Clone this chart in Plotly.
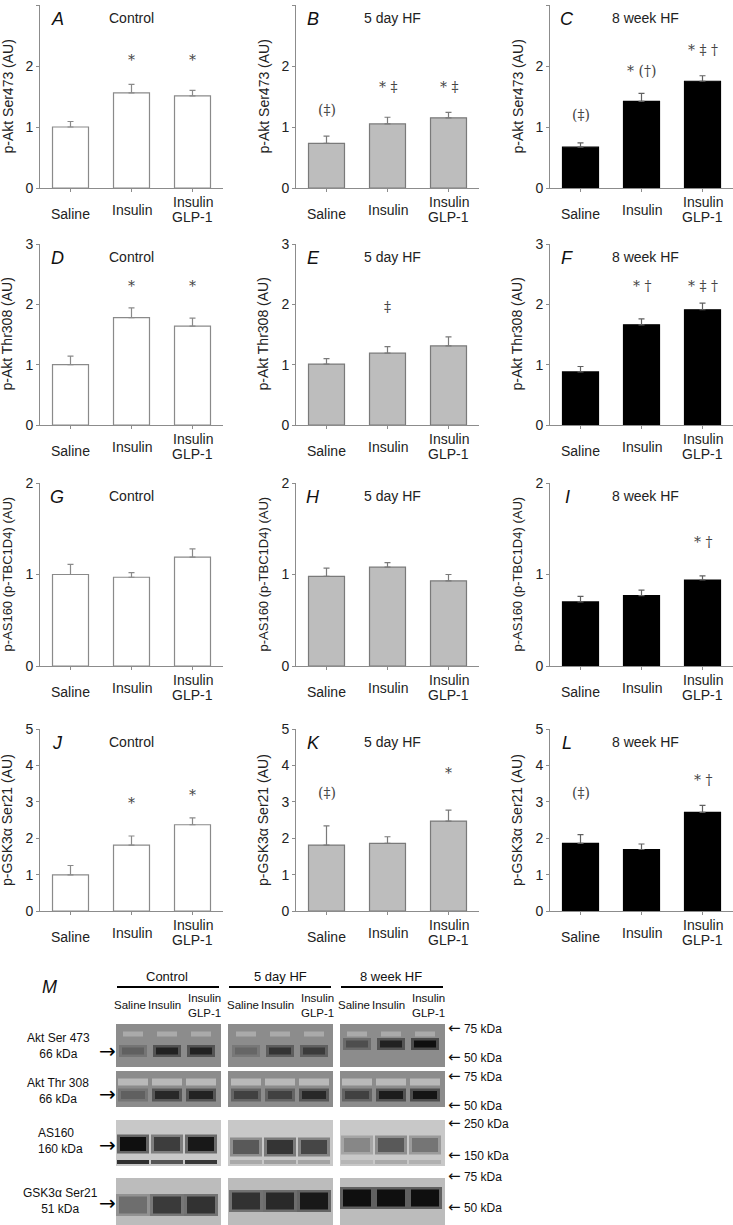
import plotly.graph_objects as go

W, H = 733, 1225

# ---------------- data ----------------
categories = ["Saline", "Insulin", "Insulin\nGLP-1"]
groups = ["Control", "5 day HF", "8 week HF"]
letters = [["A", "B", "C"], ["D", "E", "F"], ["G", "H", "I"], ["J", "K", "L"]]
row_titles = ["p-Akt Ser473 (AU)", "p-Akt Thr308 (AU)",
              "p-AS160 (p-TBC1D4) (AU)", "p-GSK3\u03b1 Ser21 (AU)"]
row_ymax = [3, 3, 2, 5]

# values per group: Control, 5 day HF, 8 week HF ; bars: Saline, Insulin, Insulin+GLP-1
akt473_mean = [[1.00, 1.56, 1.51], [0.73, 1.05, 1.15], [0.67, 1.42, 1.75]]
akt473_err = [[0.09, 0.14, 0.09], [0.12, 0.11, 0.09], [0.07, 0.13, 0.09]]
akt473_sig = [["", "*", "*"], ["(\u2021)", "* \u2021", "* \u2021"], ["(\u2021)", "* (\u2020)", "* \u2021 \u2020"]]
akt473_sig_y = [[None, 2.10, 2.10], [1.28, 1.66, 1.66], [1.19, 1.92, 2.27]]

akt308_mean = [[1.00, 1.78, 1.64], [1.01, 1.19, 1.31], [0.88, 1.66, 1.91]]
akt308_err = [[0.14, 0.16, 0.13], [0.09, 0.11, 0.15], [0.09, 0.10, 0.11]]
akt308_sig = [["", "*", "*"], ["", "\u2021", ""], ["", "* \u2020", "* \u2021 \u2020"]]
akt308_sig_y = [[None, 2.31, 2.31], [None, 1.96, None], [None, 2.30, 2.30]]

as160_mean = [[1.00, 0.97, 1.19], [0.98, 1.08, 0.93], [0.70, 0.77, 0.94]]
as160_err = [[0.11, 0.05, 0.09], [0.09, 0.05, 0.07], [0.06, 0.06, 0.045]]
as160_sig = [["", "", ""], ["", "", ""], ["", "", "* \u2020"]]
as160_sig_y = [[None, None, None], [None, None, None], [None, None, 1.35]]

gsk3_mean = [[0.99, 1.81, 2.37], [1.81, 1.86, 2.47], [1.86, 1.69, 2.71]]
gsk3_err = [[0.26, 0.25, 0.19], [0.53, 0.18, 0.30], [0.24, 0.15, 0.19]]
gsk3_sig = [["", "*", "*"], ["(\u2021)", "", "*"], ["(\u2021)", "", "* \u2020"]]
gsk3_sig_y = [[None, 2.96, 3.20], [3.23, None, 3.78], [3.25, None, 3.60]]

row_means = [akt473_mean, akt308_mean, as160_mean, gsk3_mean]
row_errs = [akt473_err, akt308_err, as160_err, gsk3_err]
row_sigs = [akt473_sig, akt308_sig, as160_sig, gsk3_sig]
row_sig_y = [akt473_sig_y, akt308_sig_y, as160_sig_y, gsk3_sig_y]

# Western blot (panel M): relative band darkness per lane (0-1)
blot_rows = ["Akt Ser 473<br>66 kDa", "Akt Thr 308<br>66 kDa", "AS160<br>160 kDa", "GSK3\u03b1 Ser21<br>51 kDa"]
blot_ser473 = [[0.35, 0.85, 0.85], [0.30, 0.70, 0.65], [0.50, 0.85, 1.00]]
blot_thr308 = [[0.35, 0.80, 0.85], [0.60, 0.60, 0.80], [0.60, 0.90, 0.95]]
blot_as160 = [[1.00, 0.75, 0.95], [0.60, 0.80, 0.70], [0.35, 0.60, 0.45]]
blot_gsk3 = [[0.45, 0.75, 0.80], [0.80, 0.85, 0.95], [1.00, 1.00, 1.00]]
blot_intensity = [blot_ser473, blot_thr308, blot_as160, blot_gsk3]
marker_labels = ["75 kDa", "50 kDa", "75 kDa", "50 kDa", "250 kDa", "150 kDa", "75 kDa", "50 kDa"]

# ---------------- styling / layout ----------------
FONT = "Liberation Sans, Arial, sans-serif"
SERIF = "DejaVu Serif, Liberation Serif, serif"
AXC = "#8c8c8c"
bar_fill = ["white", "#bdbdbd", "black"]
bar_line = ["#8a8a8a", "#7a7a7a", "black"]
err_col = ["#8a8a8a", "#7a7a7a", "#606060"]

col_px = [(40, 223), (296, 479), (550, 733)]
row_px = [(5, 188), (244, 425), (483, 666), (729, 911)]
title_font = [14, 14, 13, 14]
group_label_x = [0.5, 0.53, 0.52]


def px(x):
    return x / W


def py(y):
    return 1 - y / H


fig = go.Figure()
layout = dict(width=W, height=H, margin=dict(l=0, r=0, t=0, b=0),
              paper_bgcolor="white", plot_bgcolor="rgba(0,0,0,0)",
              showlegend=False, template="none", font=dict(family=FONT, size=14, color="#222"))
annotations = []
shapes = []

for r in range(4):
    for g in range(3):
        k = r * 3 + g + 1
        xn = "x" if k == 1 else f"x{k}"
        yn = "y" if k == 1 else f"y{k}"
        xk = "xaxis" if k == 1 else f"xaxis{k}"
        yk = "yaxis" if k == 1 else f"yaxis{k}"
        means = row_means[r][g]
        errs = row_errs[r][g]
        fig.add_trace(go.Bar(
            x=[0, 1, 2], y=means, width=0.59, xaxis=xn, yaxis=yn,
            marker=dict(color=bar_fill[g], line=dict(color=bar_line[g], width=1.2)),
            error_y=dict(type="data", array=errs, arrayminus=[0, 0, 0], symmetric=False,
                         color=err_col[g], thickness=1.2, width=3),
            hoverinfo="skip"))
        x0, x1 = col_px[g]
        y0, y1 = row_px[r]
        layout[xk] = dict(domain=[px(x0), px(x1)], range=[-0.5, 2.5], anchor=yn,
                          showline=True, linecolor=AXC, linewidth=1, ticks="outside",
                          ticklen=3, tickcolor=AXC, tickvals=[0, 1, 2], showticklabels=False,
                          showgrid=False, zeroline=False, fixedrange=True)
        layout[yk] = dict(domain=[py(y1), py(y0)], range=[0, row_ymax[r]], anchor=xn,
                          showline=True, linecolor=AXC, linewidth=1, ticks="outside",
                          ticklen=3, tickcolor=AXC, tickvals=list(range(row_ymax[r] + 1)),
                          tickfont=dict(size=14, color="#222", family=FONT),
                          showgrid=False, zeroline=False, automargin=False, fixedrange=True)
        xd = "x domain" if k == 1 else f"x{k} domain"
        yd = "y domain" if k == 1 else f"y{k} domain"
        hpx = y1 - y0
        wpx = x1 - x0
        annotations.append(dict(text=row_titles[r], xref=xd, yref=yd, x=-33 / wpx, y=0.5,
                                xanchor="center", yanchor="middle", textangle=-90, showarrow=False,
                                font=dict(size=title_font[r], family=FONT, color="#222")))
        annotations.append(dict(text=f"<i>{letters[r][g]}</i>", xref=xd, yref=yd, x=17 / wpx,
                                y=1 - 14 / hpx, xanchor="center", yanchor="middle", showarrow=False,
                                font=dict(size=18, family=FONT, color="#111")))
        annotations.append(dict(text=groups[g], xref=xd, yref=yd, x=group_label_x[g],
                                y=1 - 13 / hpx, xanchor="center", yanchor="middle", showarrow=False,
                                font=dict(size=14, family=FONT, color="#222")))
        for i, cat in enumerate(categories):
            lines = cat.split("\n")
            if len(lines) == 1:
                shift = [-26, -22, -22][i]
                annotations.append(dict(text=lines[0], xref=xn, yref=yn, x=i, y=0, yshift=shift,
                                        xanchor="center", yanchor="middle", showarrow=False,
                                        font=dict(size=14, family=FONT, color="#222")))
            else:
                for j, ln in enumerate(lines):
                    annotations.append(dict(text=ln, xref=xn, yref=yn, x=i, y=0, yshift=-14 - 15 * j,
                                            xanchor="center", yanchor="middle", showarrow=False,
                                            font=dict(size=14, family=FONT, color="#222")))
        for i in range(3):
            s = row_sigs[r][g][i]
            if s:
                annotations.append(dict(text=s, xref=xn, yref=yn, x=i, y=row_sig_y[r][g][i],
                                        xanchor="center", yanchor="middle", showarrow=False,
                                        font=dict(size=14, family=SERIF, color="#444")))

# ---------------- Panel M: western blots ----------------
layout["xaxis13"] = dict(domain=[0, 1], range=[0, W], visible=False, fixedrange=True, anchor="y13")
layout["yaxis13"] = dict(domain=[0, py(940)], range=[H, 940], visible=False, fixedrange=True, anchor="x13")

strip_x = [(116, 221), (228, 333), (340, 445)]
strip_y = [(1024, 1067), (1071, 1107), (1120, 1166), (1178, 1225)]
strip_bg = [140, 140, 200, 188]
group_center = [167, 280, 391]
lane_offset = [-34, 0, 34]
band_y = [[1051, 1051, 1044], [1095, 1095, 1095], [1144, 1147, 1145], [1205, 1201, 1198]]
band_thick = [7, 8, 14, 17]
band_half = [14, 15, 16, 17]

for r in range(4):
    for g in range(3):
        xa, xb = strip_x[g]
        ya, yb = strip_y[r]
        bg = strip_bg[r]
        shapes.append(dict(type="rect", xref="x13", yref="y13", x0=xa, x1=xb, y0=ya, y1=yb,
                           line=dict(width=0), fillcolor=f"rgb({bg},{bg},{bg})", layer="below"))
        for l in range(3):
            c = group_center[g] + lane_offset[l]
            inten = blot_intensity[r][g][l]
            v_outer = int(round(bg - (bg - 20) * inten * 0.55))
            v_inner = int(round(bg - (bg - 15) * inten))
            hw = band_half[r]
            yb_ = band_y[r][g]
            if r == 1:
                lv = 185
                fig.add_trace(go.Scatter(x=[c - hw, c + hw], y=[1082, 1082], mode="lines",
                                         xaxis="x13", yaxis="y13", hoverinfo="skip",
                                         line=dict(color=f"rgb({lv},{lv},{lv})", width=7)))
            if r == 0:
                lv = 170
                fig.add_trace(go.Scatter(x=[c - hw + 4, c + hw - 4], y=[1034, 1034], mode="lines",
                                         xaxis="x13", yaxis="y13", hoverinfo="skip",
                                         line=dict(color=f"rgb({lv},{lv},{lv})", width=5)))
            if r == 2:
                lv = int(round(bg - (bg - 30) * inten * (0.9 if g == 0 else 0.3)))
                fig.add_trace(go.Scatter(x=[c - hw, c + hw], y=[1162, 1162], mode="lines",
                                         xaxis="x13", yaxis="y13", hoverinfo="skip",
                                         line=dict(color=f"rgb({lv},{lv},{lv})", width=4)))
            fig.add_trace(go.Scatter(x=[c - hw, c + hw], y=[yb_, yb_], mode="lines", xaxis="x13",
                                     yaxis="y13", hoverinfo="skip",
                                     line=dict(color=f"rgb({v_outer},{v_outer},{v_outer})",
                                               width=band_thick[r] + 5)))
            fig.add_trace(go.Scatter(x=[c - hw + 3, c + hw - 3], y=[yb_, yb_], mode="lines",
                                     xaxis="x13", yaxis="y13", hoverinfo="skip",
                                     line=dict(color=f"rgb({v_inner},{v_inner},{v_inner})",
                                               width=band_thick[r])))

for g in range(3):
    xa, xb = strip_x[g]
    annotations.append(dict(text=groups[g], xref="paper", yref="paper", x=px(group_center[g]),
                            y=py(976), xanchor="center", yanchor="middle", showarrow=False,
                            font=dict(size=13, family=FONT, color="#111")))
    shapes.append(dict(type="line", xref="paper", yref="paper", x0=px(xa + 1), x1=px(xb - 2),
                       y0=py(987), y1=py(987), line=dict(color="black", width=2)))
    for l in range(3):
        c = group_center[g] + lane_offset[l]
        annotations.append(dict(text=categories[l].replace("\n", "<br>"), xref="paper", yref="paper",
                                x=px(c - 3 if l < 2 else c + 3), y=py(1005), xanchor="center",
                                yanchor="middle", showarrow=False,
                                font=dict(size=11.5, family=FONT, color="#111")))

annotations.append(dict(text="<i>M</i>", xref="paper", yref="paper", x=px(49), y=py(987),
                        xanchor="center", yanchor="middle", showarrow=False,
                        font=dict(size=18, family=FONT, color="#111")))

left_label_x = [58, 58, 36, 60]
left_label_y = [1046, 1091, 1141, 1201]
left_anchor = ["center", "center", "left", "center"]
arrow_y = [1051, 1094, 1145, 1203]
for r in range(4):
    annotations.append(dict(text=blot_rows[r], xref="paper", yref="paper", x=px(left_label_x[r]),
                            y=py(left_label_y[r]), xanchor=left_anchor[r], align=left_anchor[r],
                            yanchor="middle", showarrow=False,
                            font=dict(size=12, family=FONT, color="#111")))
    annotations.append(dict(text="\u2192", xref="paper", yref="paper", x=px(107), y=py(arrow_y[r]),
                            xanchor="center", yanchor="middle", showarrow=False,
                            font=dict(size=20, family="DejaVu Sans", color="black")))

marker_y = [1028, 1057, 1076, 1105, 1123, 1155, 1176, 1207]
for lab, my in zip(marker_labels, marker_y):
    annotations.append(dict(text="<span style='font-size:15px;font-family:DejaVu Sans'>\u2190</span> " + lab,
                            xref="paper", yref="paper", x=px(446), y=py(my), xanchor="left",
                            yanchor="middle", showarrow=False,
                            font=dict(size=12, family=FONT, color="#111")))

layout["annotations"] = annotations
layout["shapes"] = shapes
fig.update_layout(**layout)
fig.write_html("out.html", config={"displayModeBar": False},
               post_script="document.body.style.margin='0px';document.body.style.padding='0px';")
